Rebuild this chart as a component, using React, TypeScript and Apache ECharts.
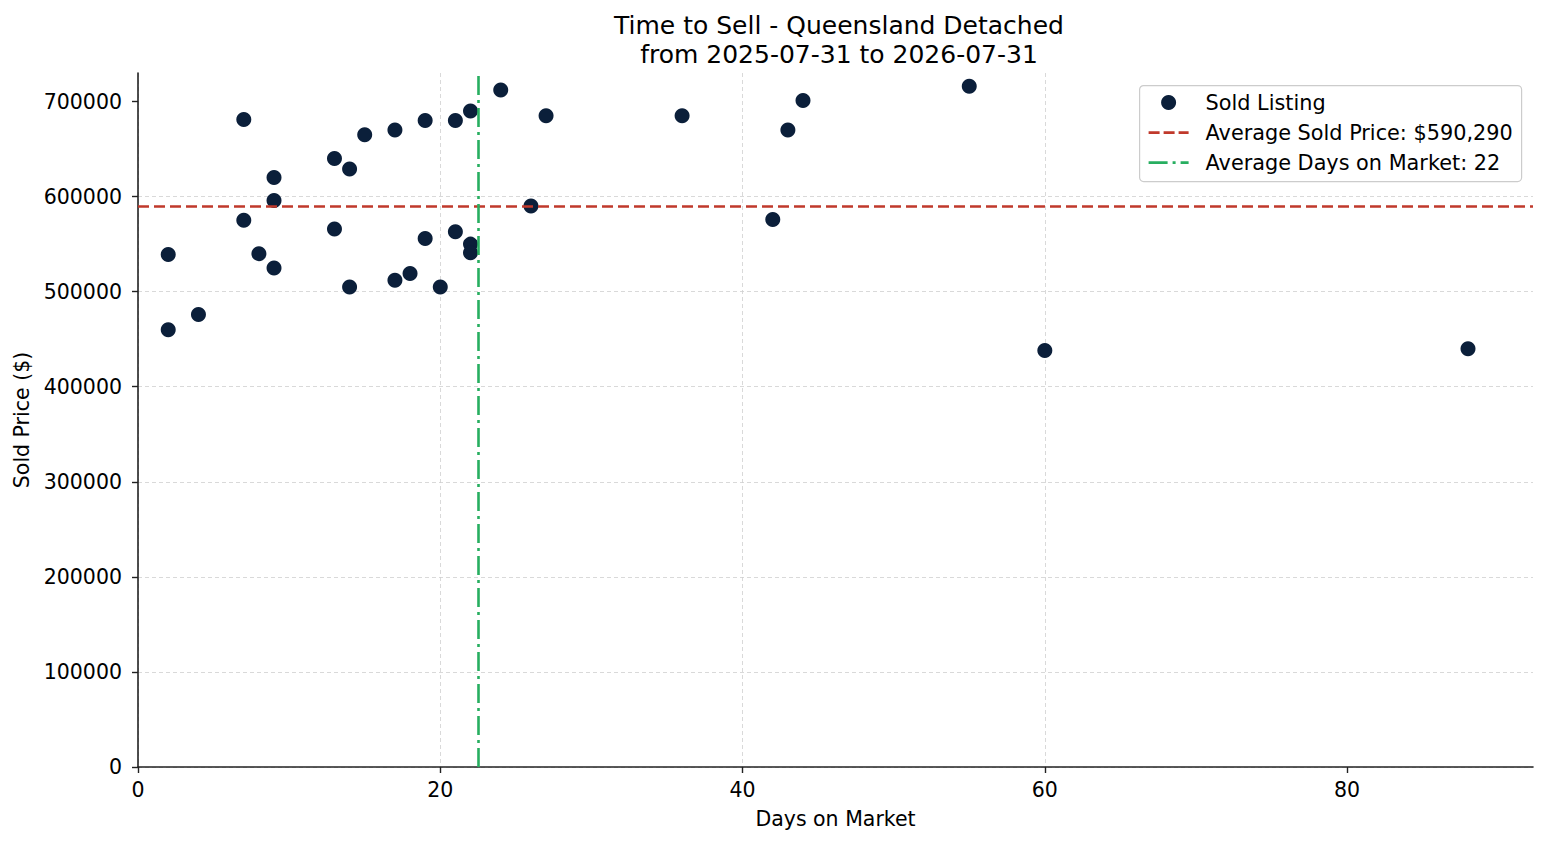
import { useEffect, useRef } from 'react';
import * as echarts from 'echarts';

// days on market / sold price for each sold listing
const DAYS = [
  2, 2, 4, 7, 7, 8, 9, 9, 9, 13, 13, 14, 14, 15, 17, 17, 18, 19, 19, 20, 21, 21, 22, 22, 22, 24, 26, 27, 36, 42, 43,
  44, 55, 60, 88,
];
const PRICES = [
  460000, 539000, 476000, 681000, 575000, 540000, 620000, 596000, 525000, 640000, 566000, 629000, 505000, 665000,
  670000, 512000, 519000, 680000, 556000, 505000, 680000, 563000, 690000, 550000, 541000, 712000, 590000, 685000,
  685000, 576000, 670000, 701000, 716000, 438000, 440000,
];

const X_TICKS = [0, 20, 40, 60, 80];
const Y_TICKS = [0, 100000, 200000, 300000, 400000, 500000, 600000, 700000];

const AVG_PRICE = 590290;
const AVG_DAYS = DAYS.reduce((a, b) => a + b, 0) / DAYS.length;

const LEGEND_LABELS = ['Sold Listing', 'Average Sold Price: $590,290', 'Average Days on Market: 22'];

const FONT = 'DejaVu Sans';
const NAVY = '#0b1f3a';
const RED = '#c0392b';
const GREEN = '#27ae60';

export default function App() {
  const chartRef = useRef<HTMLDivElement>(null);

  useEffect(() => {
    if (!chartRef.current) return;
    const chart = echarts.init(chartRef.current, null, { renderer: 'svg' });

    const points = DAYS.map((d, i) => [d, PRICES[i]]);

    const gridLine = { show: true, showMaxLine: false, lineStyle: { color: '#cfcfcf', width: 0.8, type: [4, 3] } };
    const axisText = { color: '#000', fontFamily: FONT, fontSize: 20.5 };

    const legendX = 1139;
    const legendY = 85;
    const rowY = [17, 47, 77];

    const option: echarts.EChartsOption = {
      animation: false,
      backgroundColor: '#fff',
      textStyle: { fontFamily: FONT },
      title: {
        text: 'Time to Sell - Queensland Detached\nfrom 2025-07-31 to 2026-07-31',
        left: 834,
        top: 6,
        textAlign: 'center',
        textStyle: { fontFamily: FONT, fontSize: 25, fontWeight: 'normal', color: '#000', lineHeight: 29 },
      },
      grid: { left: 138, right: 14, top: 73, bottom: 78 },
      xAxis: {
        type: 'value',
        min: 0,
        max: 92.3,
        interval: 20,
        name: 'Days on Market',
        nameLocation: 'middle',
        nameGap: 41,
        nameTextStyle: axisText,
        axisLine: { show: true, onZero: false, lineStyle: { color: '#222', width: 1.6 } },
        axisTick: { show: true, length: 6, customValues: X_TICKS, lineStyle: { color: '#222', width: 1.4 } },
        axisLabel: { ...axisText, margin: 12, customValues: X_TICKS, formatter: (v: number) => String(v) },
        splitLine: gridLine,
      },
      yAxis: {
        type: 'value',
        min: 0,
        max: 730000,
        interval: 100000,
        name: 'Sold Price ($)',
        nameLocation: 'middle',
        nameGap: 100,
        nameTextStyle: axisText,
        axisLine: { show: true, onZero: false, lineStyle: { color: '#222', width: 1.6 } },
        axisTick: { show: true, length: 6, customValues: Y_TICKS, lineStyle: { color: '#222', width: 1.4 } },
        axisLabel: { ...axisText, margin: 16, customValues: Y_TICKS, formatter: (v: number) => String(v) },
        splitLine: gridLine,
      },
      series: [
        {
          name: 'Averages',
          type: 'line',
          data: [],
          z: 1,
          markLine: {
            silent: true,
            symbol: 'none',
            label: { show: false },
            data: [
              { yAxis: AVG_PRICE, lineStyle: { color: RED, width: 2.6, type: [11, 5] } },
              { xAxis: AVG_DAYS, lineStyle: { color: GREEN, width: 2.6, type: [19, 5, 3, 5] } },
            ],
          },
        },
        {
          name: 'Sold Listing',
          type: 'scatter',
          z: 3,
          symbol: 'circle',
          symbolSize: 15,
          itemStyle: { color: NAVY, opacity: 1 },
          data: points,
        },
      ],
      graphic: [
        {
          type: 'group',
          left: legendX,
          top: legendY,
          z: 100,
          children: [
            {
              type: 'rect',
              shape: { x: 0, y: 0, width: 382, height: 96, r: 4 },
              style: { fill: 'rgba(255,255,255,0.85)', stroke: '#cccccc', lineWidth: 1.2 },
            },
            { type: 'circle', shape: { cx: 29, cy: rowY[0], r: 7.5 }, style: { fill: NAVY } },
            {
              type: 'line',
              shape: { x1: 9, y1: rowY[1], x2: 49, y2: rowY[1] },
              style: { stroke: RED, lineWidth: 2.6, lineDash: [11, 4] },
            },
            {
              type: 'line',
              shape: { x1: 9, y1: rowY[2], x2: 49, y2: rowY[2] },
              style: { stroke: GREEN, lineWidth: 2.6, lineDash: [19, 5, 3, 5] },
            },
            ...LEGEND_LABELS.map((label, i) => ({
              type: 'text' as const,
              x: 66,
              y: rowY[i],
              style: {
                text: label,
                fontFamily: FONT,
                fontSize: 20.8,
                fill: '#000',
                verticalAlign: 'middle' as const,
              },
            })),
          ],
        },
      ],
    };

    chart.setOption(option);

    return () => {
      chart.dispose();
    };
  }, []);

  return <div ref={chartRef} style={{ position: 'fixed', left: 0, top: 0, width: 1547, height: 845 }} />;
}
